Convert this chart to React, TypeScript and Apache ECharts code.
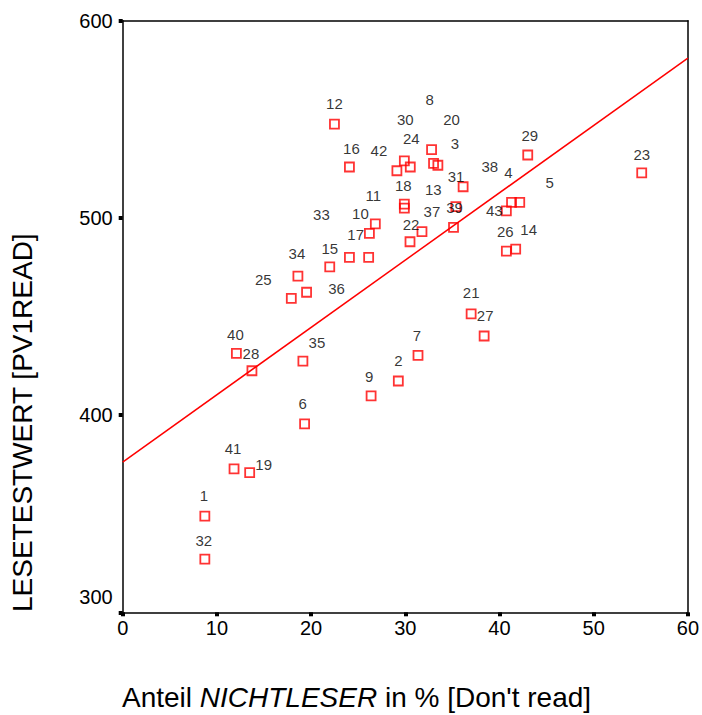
import React, { useEffect, useRef } from "react";
import * as echarts from "echarts";

// Country IDs (point labels)
const ids: string[] = [
  "1", "2", "3", "4", "5", "6", "7", "8", "9", "10",
  "11", "12", "13", "14", "15", "16", "17", "18", "19", "20",
  "21", "22", "23", "24", "25", "26", "27", "28", "29", "30",
  "31", "32", "33", "34", "35", "36", "37", "38", "39", "40",
  "41", "42", "43",
];

// Anteil NICHTLESER in %
const nichtleser: number[] = [
  8.72, 29.26, 33.46, 41.28, 42.15, 19.31, 31.35, 32.79, 26.37, 26.19,
  26.82, 22.48, 29.9, 41.72, 21.98, 24.07, 26.11, 29.9, 13.48, 33.0,
  36.99, 30.5, 55.1, 29.9, 17.9, 40.73, 38.37, 13.72, 43.0, 30.53,
  36.14, 8.72, 24.07, 18.6, 19.13, 19.52, 31.77, 35.37, 35.12, 12.07,
  11.82, 29.11, 40.73,
];

// LESETESTWERT [PV1READ]
const lesewert: number[] = [
  348.8, 417.3, 526.7, 507.9, 507.9, 395.5, 430.3, 534.6, 409.7, 492.2,
  497.0, 547.6, 505.0, 484.2, 475.2, 525.8, 480.0, 507.0, 370.8, 527.7,
  451.3, 487.9, 522.8, 528.9, 459.2, 483.2, 440.1, 422.5, 531.9, 525.8,
  515.8, 327.0, 480.0, 470.5, 427.4, 462.3, 493.0, 505.7, 495.2, 431.3,
  372.7, 523.9, 503.6,
];

// Fit line
const fitX: number[] = [0, 60];
const fitY: number[] = [376.2, 581.0];

// Label placement (pixel offsets of each label from its marker)
const labelOffsets: [number, number][] = [
  [-1, -21], [0, -20], [17, -22], [-3, -30], [30, -20], [-2, -20], [-1, -20], [-2, -50], [-2, -19], [-9, -20],
  [-2, -28], [0, -21], [29, -19], [13, -20], [0, -18], [2, -19], [-13, -23], [-1, -19], [14, -8], [18, -44],
  [0, -21], [1, -17], [0, -18], [7, -22], [-28, -19], [-1, -20], [1, -21], [-1, -17], [2, -19], [-5, -48],
  [-7, -10], [-1, -19], [-28, -43], [-1, -23], [14, -19], [30, -4], [10, -20], [34, -40], [1, -20], [-1, -19],
  [-1, -20], [-18, -20], [-12, 0],
];

const FONT = "'Liberation Sans', Arial, sans-serif";

export default function App() {
  const ref = useRef<HTMLDivElement>(null);

  useEffect(() => {
    document.body.style.margin = "0";
    if (!ref.current) return;
    const chart = echarts.init(ref.current, undefined, { renderer: "svg" });

    const scatterData = ids.map((id, i) => ({
      name: id,
      value: [nichtleser[i], lesewert[i]],
      label: { offset: labelOffsets[i] },
    }));

    const axisLineStyle = { color: "#000", width: 1.5 };

    chart.setOption({
      animation: false,
      backgroundColor: "#fff",
      grid: { left: 122.7, right: 12.7, top: 20.7, bottom: 102.7, containLabel: false },
      xAxis: [
        {
          type: "value",
          min: 0,
          max: 60,
          interval: 10,
          position: "bottom",
          axisLine: { show: true, onZero: false, lineStyle: axisLineStyle },
          axisTick: { show: true, length: 4, lineStyle: { color: "#000", width: 4 } },
          axisLabel: { color: "#000", fontSize: 20, fontFamily: FONT, margin: 6 },
          splitLine: { show: false },
        },
        {
          type: "value",
          min: 0,
          max: 60,
          position: "top",
          axisLine: { show: true, onZero: false, lineStyle: axisLineStyle },
          axisTick: { show: false },
          axisLabel: { show: false },
          splitLine: { show: false },
        },
      ],
      yAxis: [
        {
          type: "value",
          min: 300,
          max: 600,
          interval: 100,
          position: "left",
          axisLine: { show: true, onZero: false, lineStyle: axisLineStyle },
          axisTick: { show: true, length: 4, lineStyle: { color: "#000", width: 4 } },
          axisLabel: {
            color: "#000",
            fontSize: 20,
            fontFamily: FONT,
            margin: 10,
            formatter: (v: number) => (v === 300 ? `{lo|${v}}` : `${v}`),
            rich: {
              lo: { color: "#000", fontSize: 20, fontFamily: FONT, padding: [0, 0, 30, 0] },
            },
          },
          splitLine: { show: false },
        },
        {
          type: "value",
          min: 300,
          max: 600,
          position: "right",
          axisLine: { show: true, onZero: false, lineStyle: axisLineStyle },
          axisTick: { show: false },
          axisLabel: { show: false },
          splitLine: { show: false },
        },
      ],
      series: [
        {
          type: "line",
          data: fitX.map((x, i) => [x, fitY[i]]),
          showSymbol: false,
          symbol: "none",
          lineStyle: { color: "#ff0000", width: 1.5 },
          z: 2,
          silent: true,
        },
        {
          type: "scatter",
          symbol: "rect",
          symbolSize: 9,
          itemStyle: { color: "rgba(0,0,0,0)", borderColor: "#ff0000", borderWidth: 1.8 },
          label: {
            show: true,
            position: "inside",
            formatter: (p: any) => p.name,
            color: "#000",
            fontSize: 15,
            fontFamily: FONT,
          },
          data: scatterData,
          z: 3,
        },
      ],
      graphic: [
        {
          type: "text",
          left: 122,
          top: 683,
          style: {
            text: "{a|Anteil }{b|NICHTLESER}{a| in % [Don't read]}",
            fill: "#000",
            rich: {
              a: { fontSize: 28, fontFamily: FONT, fill: "#000" },
              b: { fontSize: 28, fontFamily: FONT, fontStyle: "italic", fill: "#000" },
            },
          },
        },
        {
          type: "text",
          x: 22,
          y: 612,
          rotation: Math.PI / 2,
          style: {
            text: "LESETESTWERT [PV1READ]",
            fill: "#000",
            fontSize: 28,
            fontFamily: FONT,
            align: "left",
            verticalAlign: "middle",
          },
        },
      ],
    });

    return () => chart.dispose();
  }, []);

  return <div ref={ref} style={{ width: 702, height: 715 }} />;
}
